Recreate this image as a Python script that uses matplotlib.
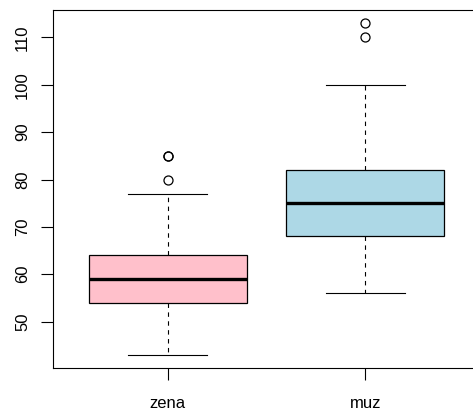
import matplotlib
matplotlib.use("Agg")
import matplotlib.pyplot as plt

# box statistics
groups = ["zena", "muz"]
whislo = [43, 56]
q1 = [54, 68]
med = [59, 75]
q3 = [64, 82]
whishi = [77, 100]
fliers = [[80, 85, 85], [110, 113]]
colors = ["#FFC0CB", "#ADD8E6"]

plt.rcParams["font.family"] = ["Liberation Sans", "DejaVu Sans"]

fig = plt.figure(figsize=(4.73, 4.11), dpi=100)
# right edge of the frame falls outside the image, as in the reference
ax = fig.add_axes([53 / 473, 1 - 368 / 411, 427 / 473, 358 / 411])

stats = []
for i, g in enumerate(groups):
    stats.append(dict(label=g, whislo=whislo[i], q1=q1[i], med=med[i],
                      q3=q3[i], whishi=whishi[i], fliers=fliers[i]))

bp = ax.bxp(stats, positions=[1, 2], widths=0.8, patch_artist=True,
            showfliers=True,
            boxprops=dict(linewidth=0.9, edgecolor="black"),
            medianprops=dict(color="black", linewidth=2.4, solid_capstyle="butt"),
            whiskerprops=dict(color="black", linewidth=0.8, linestyle=(0, (4, 4))),
            capprops=dict(color="black", linewidth=0.8),
            capwidths=0.4,
            flierprops=dict(marker="o", markerfacecolor="none",
                            markeredgecolor="black", markersize=6.5,
                            markeredgewidth=0.9))
for patch, c in zip(bp["boxes"], colors):
    patch.set_facecolor(c)

ax.set_xlim(0.42, 2.58)
ax.set_ylim(40.2, 115.8)
ax.set_yticks([50, 60, 70, 80, 90, 100, 110])
ax.set_xticks([1, 2])
ax.set_xticklabels(groups)
for lab in ax.get_yticklabels():
    lab.set_rotation(90)
    lab.set_va("center")
ax.tick_params(axis="both", direction="out", length=8.5, width=0.8,
               labelsize=12, colors="black")
ax.tick_params(axis="y", pad=8)
ax.tick_params(axis="x", pad=12)
for s in ax.spines.values():
    s.set_linewidth(0.8)

fig.savefig("out.png", dpi=100)
